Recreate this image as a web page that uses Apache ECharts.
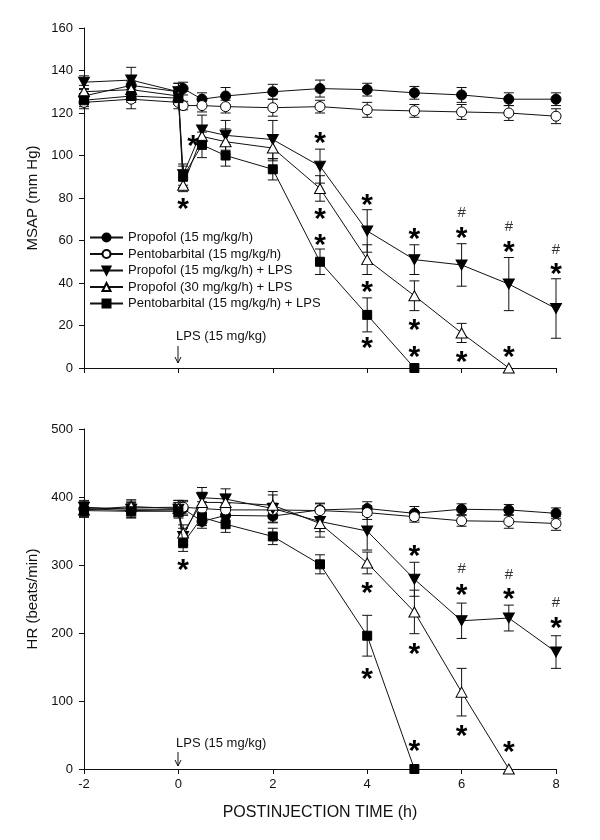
<!DOCTYPE html>
<html>
<head>
<meta charset="utf-8">
<script src="https://cdn.jsdelivr.net/npm/echarts@6/dist/echarts.min.js"></script>
<style>html,body{margin:0;padding:0;background:#fff}#c{width:600px;height:840px}</style>
</head>
<body>
<div id="c"></div>
<script>
// ---- data ----
const times = [-2, -1, 0, 0.1, 0.5, 1, 2, 3, 4, 5, 6, 7, 8];
const seriesNames = ['Propofol (15 mg/kg/h)', 'Pentobarbital (15 mg/kg/h)', 'Propofol (15 mg/kg/h) + LPS', 'Propofol (30 mg/kg/h) + LPS', 'Pentobarbital (15 mg/kg/h) + LPS'];
const xTicks = [-2, 0, 2, 4, 6, 8];

// MSAP (mm Hg) means and SE
const msapPropofol      = [128, 133, 130, 131.5, 126.5, 128, 130, 131.5, 131, 129.5, 128.5, 126.5, 126.5];
const msapPropofolSE    = [3, 4, 4, 3, 3, 4, 3.5, 4, 3, 3, 3.5, 3, 3];
const msapPento         = [125, 126.5, 125, 123.5, 123.5, 123, 122.5, 123, 121.5, 121, 120.5, 120, 118.5];
const msapPentoSE       = [3, 4.5, 3, 2, 3, 3, 4, 3, 3.5, 3, 3.5, 3.5, 3.5];
const msapProp15LPS     = [134.5, 135.5, 130, 91, 112, 109.5, 107.5, 95, 64.5, 51, 48.5, 39.5, 28];
const msapProp15LPSSE   = [3, 6, 4, 5, 7, 7, 9, 8, 10, 7, 10, 12.5, 14];
const msapProp30LPS     = [130, 131, 128, 86, 109, 106.5, 103.5, 84.5, 51, 34, 16.5, 0, null];
const msapProp30LPSSE   = [3, 4, 4, 3, 5, 6, 6, 6, 7, 7, 4.5, 0, null];
const msapPentoLPS      = [126, 128, 127, 90, 105, 100, 93.5, 50, 25, 0, null, null, null];
const msapPentoLPSSE    = [3, 3, 3, 5, 6, 5, 5, 6, 8, 0, null, null, null];

// HR (beats/min) means and SE
const hrPropofol        = [383, 380, 381, 383, 364, 373, 372, 381, 383, 376, 382, 381, 376];
const hrPropofolSE      = [10, 10, 10, 10, 10, 10, 10, 10, 10, 10, 8, 8, 8];
const hrPento           = [382, 384, 385, 385, 383, 381, 381, 380, 377, 371, 365, 364, 361];
const hrPentoSE         = [10, 10, 10, 10, 10, 10, 10, 10, 10, 8, 8, 10, 10];
const hrProp15LPS       = [385, 382, 382, 342, 399, 397, 383, 364, 350, 279, 218, 222, 172];
const hrProp15LPSSE     = [10, 10, 10, 12, 15, 15, 20, 15, 28, 25, 26, 19, 24];
const hrProp30LPS       = [381, 386, 383, 347, 392, 392, 388, 361, 303, 231, 113, 0, null];
const hrProp30LPSSE     = [10, 10, 12, 12, 15, 12, 20, 20, 16, 32, 35, 0, null];
const hrPentoLPS        = [380, 379, 379, 332, 370, 360, 342, 301, 196, 0, null, null, null];
const hrPentoLPSSE      = [10, 10, 10, 12, 12, 12, 12, 14, 30, 0, null, null, null];

// significance marks: [time, value]
const msapStars  = [[0.1, 77.6], [0.31, 107.6], [3, 108.8], [3, 73.3], [3, 60.8], [4, 79.8], [4, 38.6], [4, 12.4], [5, 63.7], [5, 21], [5, 8], [6, 64.2], [6, 5.6], [7, 57.6], [7, 8], [8, 47.4]];
const msapHashes = [[6, 72.8], [7, 66.2], [8, 55.8]];
const hrStars    = [[0.1, 302.5], [4, 268], [4, 141.6], [5, 322], [5, 179], [5, 35.3], [6, 265.7], [6, 57.4], [7, 259], [7, 34.3], [8, 216.6]];
const hrHashes   = [[6, 293.6], [7, 285], [8, 243.6]];

// ---- chart ----
const FONT = 'Liberation Sans, Arial, sans-serif';
const symbols = [
  {symbol: 'circle', symbolSize: 10, fill: '#000'},
  {symbol: 'circle', symbolSize: 10, fill: '#fff'},
  {symbol: 'path://M0,0L10,0L5,9Z', symbolSize: [11, 10], fill: '#000'},
  {symbol: 'triangle', symbolSize: [11, 10], fill: '#fff'},
  {symbol: 'rect', symbolSize: 9, fill: '#000'}
];
const msapMeans = [msapPropofol, msapPento, msapProp15LPS, msapProp30LPS, msapPentoLPS];
const msapSEs = [msapPropofolSE, msapPentoSE, msapProp15LPSSE, msapProp30LPSSE, msapPentoLPSSE];
const hrMeans = [hrPropofol, hrPento, hrProp15LPS, hrProp30LPS, hrPentoLPS];
const hrSEs = [hrPropofolSE, hrPentoSE, hrProp15LPSSE, hrProp30LPSSE, hrPentoLPSSE];

function pts(vals) {
  const out = [];
  vals.forEach((v, i) => { if (v !== null) out.push([times[i], v]); });
  return out;
}
function errs(vals, se) {
  const out = [];
  vals.forEach((v, i) => { if (v !== null && se[i]) out.push([times[i], v - se[i], v + se[i]]); });
  return out;
}
function errRender(params, api) {
  const x = api.value(0);
  const a = api.coord([x, api.value(2)]);
  const b = api.coord([x, api.value(1)]);
  const w = 5;
  const st = {stroke: '#111', lineWidth: 1};
  return {type: 'group', children: [
    {type: 'line', shape: {x1: a[0], y1: a[1], x2: b[0], y2: b[1]}, style: st},
    {type: 'line', shape: {x1: a[0] - w, y1: a[1], x2: a[0] + w, y2: a[1]}, style: st},
    {type: 'line', shape: {x1: b[0] - w, y1: b[1], x2: b[0] + w, y2: b[1]}, style: st}
  ]};
}
function textRender(txt, font, dy, color) {
  return function (params, api) {
    const p = api.coord([api.value(0), api.value(1)]);
    return {type: 'text', x: p[0], y: p[1] + dy, style: {text: txt, font: font, fill: color, align: 'center', verticalAlign: 'middle'}};
  };
}

const series = [];
[[msapMeans, msapSEs, 0], [hrMeans, hrSEs, 1]].forEach(([means, ses, gi]) => {
  means.forEach((m, k) => {
    series.push({
      type: 'custom', name: seriesNames[k] + ' SE', xAxisIndex: gi, yAxisIndex: gi, z: 1,
      renderItem: errRender, data: errs(m, ses[k]), silent: true
    });
  });
  means.forEach((m, k) => {
    series.push({
      type: 'line', name: seriesNames[k], xAxisIndex: gi, yAxisIndex: gi, z: 3 + k,
      data: pts(m), symbol: symbols[k].symbol, symbolSize: symbols[k].symbolSize,
      showAllSymbol: true,
      lineStyle: {color: '#111', width: 1},
      itemStyle: {color: symbols[k].fill, borderColor: '#000', borderWidth: 1, opacity: 1},
      emphasis: {disabled: true}, animation: false
    });
  });
});
[[msapStars, msapHashes, 0], [hrStars, hrHashes, 1]].forEach(([st, hs, gi]) => {
  series.push({type: 'custom', xAxisIndex: gi, yAxisIndex: gi, z: 10, data: st,
    renderItem: textRender('*', 'bold 30px ' + FONT, 7, '#000'), silent: true});
  series.push({type: 'custom', xAxisIndex: gi, yAxisIndex: gi, z: 10, data: hs,
    renderItem: textRender('#', '15px ' + FONT, 0, '#333'), silent: true});
});

const axisLine = {show: true, onZero: false, lineStyle: {color: '#111', width: 1}};
const axisTick = {show: true, inside: false, length: 5, lineStyle: {color: '#111'}};
function xAxis(gi, labels) {
  return {type: 'value', gridIndex: gi, min: -2, max: 8, interval: 2,
    axisLine: axisLine, axisTick: axisTick, splitLine: {show: false},
    axisLabel: {show: labels, fontFamily: FONT, fontSize: 13, color: '#111', margin: 9,
      customValues: xTicks},
    name: labels ? 'POSTINJECTION TIME (h)' : '', nameLocation: 'middle', nameGap: 36,
    nameTextStyle: {fontFamily: FONT, fontSize: 16, color: '#111'}};
}
function yAxis(gi, max, interval, name) {
  return {type: 'value', gridIndex: gi, min: 0, max: max, interval: interval,
    axisLine: axisLine, axisTick: axisTick, splitLine: {show: false},
    axisLabel: {fontFamily: FONT, fontSize: 13, color: '#111', margin: 11},
    name: name, nameLocation: 'middle', nameGap: 43, nameRotate: 90,
    nameTextStyle: {fontFamily: FONT, fontSize: 15, color: '#111'}};
}

const chart = echarts.init(document.getElementById('c'), null, {renderer: 'canvas'});
chart.setOption({
  animation: false,
  backgroundColor: '#fff',
  grid: [
    {left: 84, top: 28, width: 472, height: 340},
    {left: 84, top: 429, width: 472, height: 340}
  ],
  xAxis: [xAxis(0, false), xAxis(1, true)],
  yAxis: [yAxis(0, 160, 20, 'MSAP (mm Hg)'), yAxis(1, 500, 100, 'HR (beats/min)')],
  legend: {
    data: seriesNames, orient: 'vertical', left: 89, top: 231, padding: 0,
    itemWidth: 33, itemHeight: 10, itemGap: 3.5,
    textStyle: {fontFamily: FONT, fontSize: 13, color: '#111'},
    selectedMode: false
  },
  graphic: [
    {type: 'text', left: 176, top: 330, style: {text: 'LPS (15 mg/kg)', font: '13px ' + FONT, fill: '#111'}},
    {type: 'line', shape: {x1: 178, y1: 346, x2: 178, y2: 363}, style: {stroke: '#111', lineWidth: 1}},
    {type: 'polyline', shape: {points: [[175, 357], [178, 363], [181, 357]]}, style: {stroke: '#111', lineWidth: 1, fill: null}},
    {type: 'text', left: 176, top: 737, style: {text: 'LPS (15 mg/kg)', font: '13px ' + FONT, fill: '#111'}},
    {type: 'line', shape: {x1: 178, y1: 752, x2: 178, y2: 766}, style: {stroke: '#111', lineWidth: 1}},
    {type: 'polyline', shape: {points: [[175, 760], [178, 766], [181, 760]]}, style: {stroke: '#111', lineWidth: 1, fill: null}}
  ],
  series: series
});
</script>
</body>
</html>
